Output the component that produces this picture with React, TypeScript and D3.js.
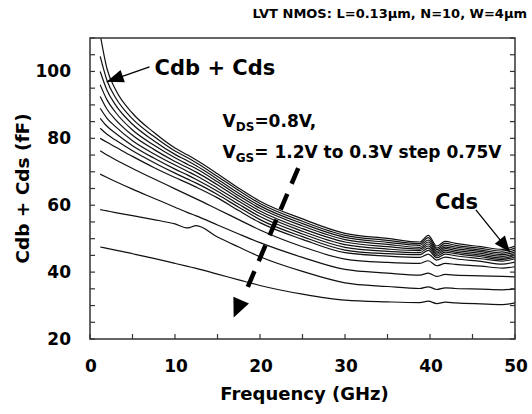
import React from "react";
import * as d3 from "d3";

const freqs = [1.2, 2, 3, 5, 7.5, 10, 11.5, 12.5, 15, 17.5, 20, 25, 30, 35, 38.8, 39.8, 40.8, 41.8, 43, 46, 48.5, 50];

const c0 = [47.5, 47.1, 46.6, 45.5, 44.1, 42.6, 41.7, 41.1, 39.4, 37.7, 36.0, 33.4, 31.6, 31.1, 30.9, 31.3, 30.6, 31.0, 30.8, 30.5, 30.3, 30.8];
const c1 = [58.7, 58.3, 57.8, 56.9, 55.7, 54.4, 53.2, 53.9, 50.5, 47.5, 44.6, 40.2, 36.8, 35.7, 35.1, 35.6, 34.8, 35.3, 35.1, 34.9, 34.7, 35.0];
const c2 = [69.3, 68.3, 67.1, 64.8, 62.1, 59.4, 57.8, 56.8, 54.1, 51.4, 48.8, 44.4, 40.8, 39.7, 39.1, 39.7, 38.7, 39.3, 39.1, 38.9, 38.7, 38.6];
const c3 = [76.3, 75.0, 73.6, 71.0, 67.9, 64.9, 63.1, 61.9, 58.8, 55.7, 52.6, 47.6, 43.9, 42.9, 42.6, 43.4, 41.9, 42.6, 42.3, 41.8, 41.2, 41.6];
const c4 = [80.0, 78.8, 77.4, 74.6, 71.3, 68.3, 66.6, 65.4, 62.2, 58.4, 54.8, 49.8, 45.8, 44.8, 44.4, 45.4, 43.6, 44.5, 44.0, 43.2, 42.4, 43.0];
const c5 = [83.0, 81.2, 79.5, 76.3, 72.8, 69.6, 67.8, 66.6, 63.2, 59.4, 55.7, 50.6, 46.6, 45.5, 45.2, 46.5, 44.3, 45.4, 44.9, 44.0, 43.3, 44.0];
const c6 = [86.0, 83.6, 81.5, 77.8, 74.1, 70.8, 69.0, 67.7, 64.2, 60.3, 56.6, 51.4, 47.4, 46.2, 45.8, 47.2, 44.8, 46.0, 45.5, 44.6, 43.8, 44.5];
const c7 = [89.0, 86.0, 83.5, 79.3, 75.4, 72.0, 70.1, 68.8, 65.1, 61.2, 57.5, 52.2, 48.2, 46.9, 46.4, 47.8, 45.3, 46.5, 46.0, 45.1, 44.2, 45.0];
const c8 = [92.5, 88.7, 85.6, 80.9, 76.7, 73.1, 71.2, 69.9, 66.1, 62.0, 58.3, 53.0, 49.0, 47.6, 46.9, 48.4, 45.7, 47.0, 46.5, 45.6, 44.7, 45.5];
const c9 = [96.0, 91.5, 87.8, 82.5, 78.0, 74.2, 72.2, 70.9, 67.0, 62.8, 59.1, 53.8, 49.7, 48.3, 47.4, 49.0, 46.2, 47.5, 47.0, 46.1, 45.2, 46.0];
const c10 = [100.0, 94.4, 90.0, 84.2, 79.3, 75.2, 73.2, 71.8, 67.8, 63.6, 59.8, 54.5, 50.4, 48.9, 48.0, 49.6, 46.7, 48.0, 47.5, 46.6, 45.7, 46.6];
const c11 = [104.5, 97.3, 92.2, 85.8, 80.6, 76.2, 74.2, 72.7, 68.6, 64.4, 60.5, 55.2, 51.0, 49.5, 48.5, 50.3, 47.2, 48.6, 48.0, 47.1, 46.3, 47.2];
const c12 = [111.0, 100.8, 94.6, 87.5, 81.8, 77.1, 75.0, 73.5, 69.4, 65.1, 61.2, 55.9, 51.6, 50.1, 49.0, 51.0, 47.8, 49.2, 48.6, 47.6, 46.8, 47.8];

const series = [c0, c1, c2, c3, c4, c5, c6, c7, c8, c9, c10, c11, c12];

const xTicks = [0, 10, 20, 30, 40, 50];
const yTicks = [20, 40, 60, 80, 100];
const xMinor = d3.range(0, 50.1, 5);
const yMinor = d3.range(20, 110.1, 5);

const W = 532, H = 414;
const left = 90, right = 515, top = 38, bottom = 339;

export default function App() {
  const x = d3.scaleLinear().domain([0, 50]).range([left, right]);
  const y = d3.scaleLinear().domain([20, 110]).range([bottom, top]);
  const line = d3
    .line<number>()
    .x((_, i) => x(freqs[i]))
    .y((d) => y(d))
    .curve(d3.curveMonotoneX);

  const font = "'DejaVu Sans', Verdana, sans-serif";
  const tickLen = 5;

  const arrowHead = (tx: number, ty: number, fx: number, fy: number, len: number, wid: number) => {
    const ang = Math.atan2(ty - fy, tx - fx);
    const bx = tx - len * Math.cos(ang);
    const by = ty - len * Math.sin(ang);
    const px = -Math.sin(ang) * wid;
    const py = Math.cos(ang) * wid;
    return `M${tx},${ty}L${bx + px},${by + py}L${bx - px},${by - py}Z`;
  };

  // annotation anchors (data coords)
  const a1Tip = [x(1.96), y(96.9)];
  const a1Tail = [x(7.0), y(101.4)];
  const dTop = [x(24.5), y(71.1)];
  const dBot = [x(18.3), y(34.0)];
  const dTip = [x(16.9), y(26.4)];
  const a2Tip = [x(49.4), y(46.0)];
  const a2Tail = [x(45.4), y(58.6)];

  return (
    <svg width={W} height={H} style={{ position: "absolute", left: 0, top: 0, background: "#fff" }}>
      <defs>
        <clipPath id="plotclip">
          <rect x={left} y={top} width={right - left} height={bottom - top} />
        </clipPath>
      </defs>
      {/* title */}
      <text x={527} y={18} textAnchor="end" fontFamily={font} fontWeight={700} fontSize={13} fill="#000">
        LVT NMOS: L=0.13μm, N=10, W=4μm
      </text>

      {/* curves */}
      <g clipPath="url(#plotclip)">
        {series.map((s, i) => (
          <path key={i} d={line(s) || ""} fill="none" stroke="#111" strokeWidth={1.2} />
        ))}
      </g>

      {/* frame */}
      <rect x={left} y={top} width={right - left} height={bottom - top} fill="none" stroke="#333" strokeWidth={1.5} />

      {/* ticks */}
      {xMinor.map((t) => (
        <line key={"xb" + t} x1={x(t)} x2={x(t)} y1={bottom} y2={bottom - tickLen} stroke="#333" strokeWidth={1.2} />
      ))}
      {yMinor.map((t) => (
        <g key={"ym" + t}>
          <line x1={left} x2={left + tickLen} y1={y(t)} y2={y(t)} stroke="#333" strokeWidth={1.2} />
          <line x1={right} x2={right - tickLen} y1={y(t)} y2={y(t)} stroke="#333" strokeWidth={1.2} />
        </g>
      ))}

      {/* tick labels */}
      {xTicks.map((t) => (
        <text key={"xl" + t} x={x(t) + 1} y={bottom + 33} textAnchor="middle" fontFamily={font} fontWeight={700} fontSize={17} fill="#000">
          {t}
        </text>
      ))}
      {yTicks.map((t) => (
        <text key={"yl" + t} x={left - 19} y={y(t) + 6} textAnchor="end" fontFamily={font} fontWeight={700} fontSize={17} fill="#000">
          {t}
        </text>
      ))}

      {/* axis titles */}
      <text x={(left + right) / 2 + 2} y={H - 14} textAnchor="middle" fontFamily={font} fontWeight={700} fontSize={18} fill="#000">
        Frequency (GHz)
      </text>
      <text
        transform={`translate(29, ${(top + bottom) / 2}) rotate(-90)`}
        textAnchor="middle"
        fontFamily={font}
        fontWeight={700}
        fontSize={18.5}
        fill="#000"
      >
        Cdb + Cds (fF)
      </text>

      {/* Cdb + Cds annotation */}
      <text x={x(7.6)} y={y(98.9)} fontFamily={font} fontWeight={700} fontSize={21} fill="#000">
        Cdb + Cds
      </text>
      <line x1={a1Tail[0]} y1={a1Tail[1]} x2={a1Tip[0]} y2={a1Tip[1]} stroke="#000" strokeWidth={1.3} />
      <path d={arrowHead(a1Tip[0], a1Tip[1], a1Tail[0], a1Tail[1], 17, 6.5)} fill="#000" />

      {/* VDS / VGS annotation */}
      <text x={x(15.6)} y={y(83.5)} fontFamily={font} fontWeight={700} fontSize={17} fill="#000">
        V<tspan fontSize={12} dy={4}>DS</tspan>
        <tspan dy={-4}>=0.8V,</tspan>
      </text>
      <text x={x(15.6)} y={y(74.2)} fontFamily={font} fontWeight={700} fontSize={17} fill="#000">
        V<tspan fontSize={12} dy={4}>GS</tspan>
        <tspan dy={-4}>= 1.2V to 0.3V step 0.75V</tspan>
      </text>

      {/* dashed arrow */}
      <line x1={dTop[0]} y1={dTop[1]} x2={dBot[0]} y2={dBot[1]} stroke="#000" strokeWidth={4.5} strokeDasharray="17,11" />
      <path d={arrowHead(dTip[0], dTip[1], dTop[0], dTop[1], 19, 8.5)} fill="#000" />

      {/* Cds annotation */}
      <text x={x(40.6)} y={y(58.8)} fontFamily={font} fontWeight={700} fontSize={21} fill="#000">
        Cds
      </text>
      <line x1={a2Tail[0]} y1={a2Tail[1]} x2={a2Tip[0]} y2={a2Tip[1]} stroke="#000" strokeWidth={1.3} />
      <path d={arrowHead(a2Tip[0], a2Tip[1], a2Tail[0], a2Tail[1], 16, 6.5)} fill="#000" />
    </svg>
  );
}
